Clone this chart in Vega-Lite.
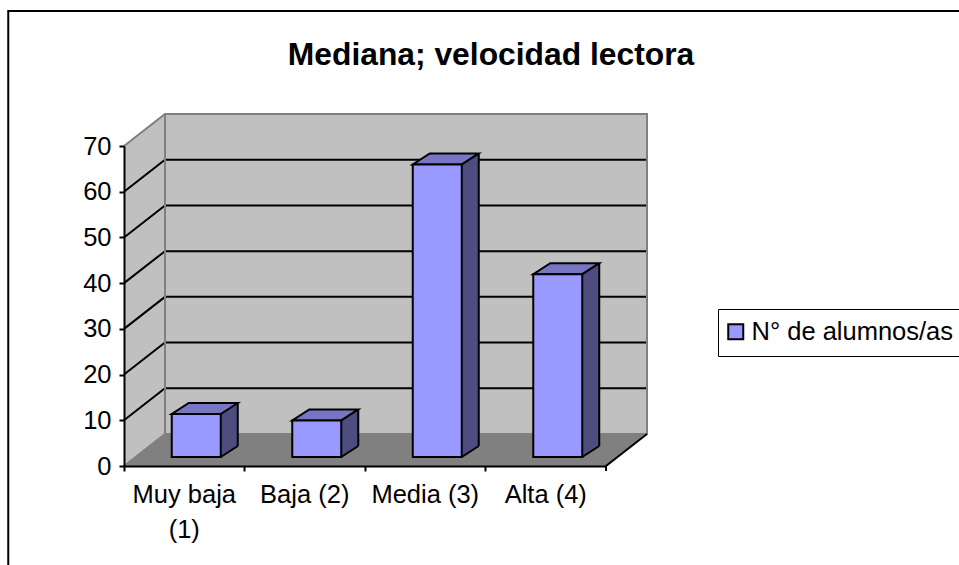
{
"$schema":"https://vega.github.io/schema/vega-lite/v6.json",
"autosize":{"type":"none"},
"padding":{"left":124,"top":146,"right":353,"bottom":99},
"width":482,"height":320,
"background":"white",
"title":{"text":"Mediana; velocidad lectora","font":"Liberation Sans","fontSize":31.8,"fontWeight":"bold","color":"black","anchor":"middle","frame":"group","dx":126,"offset":0,"dy":65},
"datasets":{
"barras":[
{"categoria":"Muy baja (1)","alumnos":9.4,"serie":"N° de alumnos/as"},
{"categoria":"Baja (2)","alumnos":8,"serie":"N° de alumnos/as"},
{"categoria":"Media (3)","alumnos":64,"serie":"N° de alumnos/as"},
{"categoria":"Alta (4)","alumnos":40,"serie":"N° de alumnos/as"}],
"rejilla":[{"categoria":"Muy baja (1)","nivel":10},{"categoria":"Muy baja (1)","nivel":20},{"categoria":"Muy baja (1)","nivel":30},{"categoria":"Muy baja (1)","nivel":40},{"categoria":"Muy baja (1)","nivel":50},{"categoria":"Muy baja (1)","nivel":60}],
"ancla":[{"categoria":"Muy baja (1)","nivel":0}]
},
"encoding":{
"x":{"field":"categoria","type":"nominal","sort":null,
 "scale":{"domain":["Muy baja (1)","Baja (2)","Media (3)","Alta (4)"],"paddingInner":0,"paddingOuter":0},
 "axis":{"title":null,"bandPosition":0,"labelAngle":0,"labelFont":"Liberation Sans","labelFontSize":25.5,"labelColor":"black","labelPadding":11,"labelLineHeight":35,"labelLimit":0,"tickColor":"black","tickSize":5,"tickWidth":2,"domainColor":"black","domainWidth":2,"grid":false,"zindex":1,
 "labelExpr":"datum.label == 'Muy baja (1)' ? ['Muy baja','(1)'] : datum.label"}}
},
"layer":[
{"data":{"name":"ancla"},"mark":{"type":"point","size":4,"opacity":1,"filled":true,"fill":"#C0C0C0","strokeWidth":0,
 "shape":"M-60.25,0 L-60.25,-320 L-19.25,-352 L462.75,-352 L462.75,-32 L421.75,0 Z"},
 "encoding":{"y":{"field":"nivel","type":"quantitative"}}},
{"data":{"name":"rejilla"},"mark":{"type":"point","size":4,"opacity":1,"filled":false,"stroke":"black","strokeWidth":2,
 "shape":"M-60.25,0 L-19.25,-32 L462.75,-32"},
 "encoding":{"y":{"field":"nivel","type":"quantitative"}}},
{"data":{"name":"ancla"},"mark":{"type":"point","size":4,"opacity":1,"filled":true,"fill":"#808080","strokeWidth":0,
 "shape":"M-60.25,0 L-19.25,-32 L462.75,-32 L421.75,0 Z"},
 "encoding":{"y":{"field":"nivel","type":"quantitative"}}},
{"data":{"name":"ancla"},"mark":{"type":"point","size":4,"opacity":1,"filled":false,"stroke":"#808080","strokeWidth":2,
 "shape":"M-60.25,-320 L-19.25,-352 L462.75,-352 L462.75,-32 L-19.25,-32 L-19.25,-352 M-19.25,-32 L-60.25,0"},
 "encoding":{"y":{"field":"nivel","type":"quantitative"}}},
{"data":{"name":"ancla"},"mark":{"type":"point","size":4,"opacity":1,"filled":false,"stroke":"black","strokeWidth":2,
 "shape":"M421.75,5 L421.75,0 L462.75,-32 M-176,200 L-176,-455 L900,-455"},
 "encoding":{"y":{"field":"nivel","type":"quantitative"}}},
{"data":{"name":"barras"},"mark":{"type":"bar","size":17,"fill":"#4D4D80","strokeWidth":0,"xOffset":45,"x2Offset":45,"yOffset":-20,"y2Offset":-20},
 "encoding":{"y":{"field":"alumnos","type":"quantitative","stack":null},"y2":{"datum":0}}},
{"data":{"name":"barras"},"mark":{"type":"point","size":4,"opacity":1,"filled":true,"fill":"#4D4D80","strokeWidth":0,"shape":"M36.5,-9 L53.5,-20 L36.5,-20 Z"},
 "encoding":{"y":{"datum":0,"type":"quantitative"}}},
{"data":{"name":"barras"},"mark":{"type":"point","size":4,"opacity":1,"filled":false,"stroke":"black","strokeWidth":2,"shape":"M36.5,-9 L53.5,-20"},
 "encoding":{"y":{"datum":0,"type":"quantitative"}}},
{"data":{"name":"barras"},"mark":{"type":"rule","stroke":"black","strokeWidth":2,"xOffset":53.5,"yOffset":-20,"y2Offset":-20},
 "encoding":{"y":{"field":"alumnos","type":"quantitative"},"y2":{"datum":0}}},
{"data":{"name":"barras"},"mark":{"type":"point","size":4,"opacity":1,"filled":true,"fill":"#7676C2","stroke":"black","strokeWidth":2,"shape":"M-12.5,-9 L36.5,-9 L53.5,-20 L4.5,-20 Z"},
 "encoding":{"y":{"field":"alumnos","type":"quantitative"}}},
{"data":{"name":"barras"},"mark":{"type":"bar","size":49,"stroke":"black","strokeWidth":2,"xOffset":12,"x2Offset":12,"yOffset":-9,"y2Offset":-9},
 "encoding":{"y":{"field":"alumnos","type":"quantitative","stack":null,
  "scale":{"domain":[0,70],"nice":false},
  "axis":{"title":null,"values":[0,10,20,30,40,50,60,70],"labelFont":"Liberation Sans","labelFontSize":25.5,"labelColor":"black","labelPadding":8,"tickColor":"black","tickSize":5,"tickWidth":2,"domainColor":"black","domainWidth":2,"grid":false,"zindex":1}},
  "y2":{"datum":0},
  "color":{"field":"serie","type":"nominal","scale":{"range":["#9999FF"]},
  "legend":{"title":null,"orient":"none","legendX":594,"legendY":163,"symbolType":"square","symbolSize":225,"symbolStrokeColor":"black","symbolStrokeWidth":2,"symbolOpacity":1,"symbolOffset":-5,"labelFont":"Liberation Sans","labelFontSize":25.5,"labelColor":"black","labelLimit":0,"strokeColor":"black","fillColor":"white","padding":10,"labelOffset":3}}}}
],
"config":{"view":{"stroke":null}}
}
